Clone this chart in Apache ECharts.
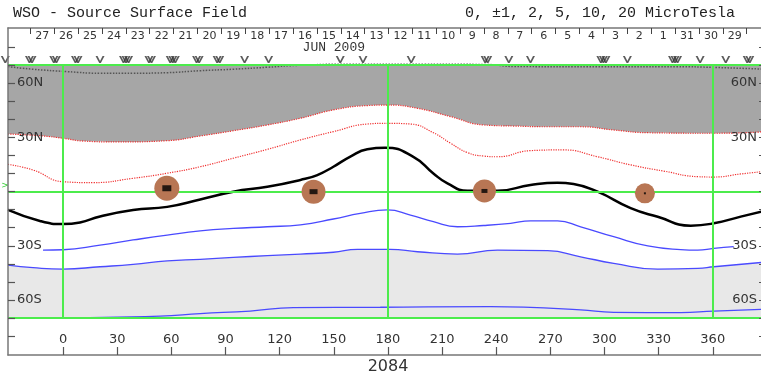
<!DOCTYPE html>
<html>
<head>
<meta charset="utf-8">
<script src="https://cdn.jsdelivr.net/npm/echarts@6/dist/echarts.min.js"></script>
<style>
html, body { margin: 0; padding: 0; background: #fff; }
#chart { width: 761px; height: 375px; }
</style>
</head>
<body>
<div id="chart"></div>
<script>
// Carrington longitude ticks (bottom) and latitude ticks (sides)
var lonTicks = [0, 30, 60, 90, 120, 150, 180, 210, 240, 270, 300, 330, 360];
var latTicks = [-80, -70, -60, -50, -40, -30, -20, -10, 0, 10, 20, 30, 40, 50, 60, 70, 80];
var latLabels = [-60, -30, 30, 60];

// day boundaries along the top (June 2009, time runs right to left)
var dayTicks = [-18.1, -4.9, 8.3, 21.6, 34.8, 48.0, 61.3, 74.5, 87.7, 101.0, 114.2, 127.4, 140.7, 153.9, 167.1,
    180.4, 193.6, 206.8, 220.1, 233.3, 246.5, 259.7, 273.0, 286.2, 299.4, 312.7, 325.9, 339.1, 352.4, 365.6, 378.8];
var dayLabels = ['27', '26', '25', '24', '23', '22', '21', '20', '19', '18', '17', '16', '15', '14', '13',
    '12', '11', '10', '9', '8', '7', '6', '5', '4', '3', '2', '1', '31', '30', '29'];

// grid lines (green)
var gridLons = [0, 180, 360];
var gridLats = [-70, 0, 70];

// neutral line (black)
var neutralLine = [[-30.5, -10.2], [-12.8, -16.3], [0, -18.0], [9.4, -17.1], [20.5, -13.8], [38.8, -10.2],
    [57.7, -8.5], [76.0, -4.4], [94.3, -0.1], [113.2, 2.6], [131.5, 6.4], [140.9, 9.1], [149.8, 13.7],
    [159.2, 19.3], [168.6, 23.4], [178.5, 24.2], [194.1, 19.2], [205.2, 10.0], [213.0, 4.5], [224.1, 0.4],
    [240.7, 0.4], [259.0, 3.6], [274.0, 4.9], [282.9, 4.2], [296.2, -0.1], [314.5, -9.2], [329.5, -14.0],
    [347.8, -18.9], [360.6, -17.6], [375.5, -13.9], [389.5, -10.5]];

// positive contours (red dotted); the first one bounds the dark shading
var northEdge = [[-30.5, 31.8], [-11.1, 30.7], [0, 29.4], [11.1, 27.9], [30.0, 27.4], [57.7, 28.1], [76.0, 30.7],
    [94.3, 33.6], [113.2, 36.8], [131.5, 40.5], [149.8, 45.1], [168.6, 47.5], [179.7, 47.8], [196.4, 46.0],
    [214.7, 41.4], [233.0, 36.8], [249.6, 36.2], [268.5, 35.8], [286.8, 35.8], [305.1, 34.0], [324.0, 32.5],
    [360.6, 32.2], [389.5, 33.1]];
var northLine2 = [[-30.5, 15.0], [-16.6, 11.9], [0, 5.4], [16.6, 4.9], [38.8, 7.3], [57.7, 10.1], [76.0, 13.7],
    [94.3, 18.4], [113.2, 23.3], [131.5, 28.5], [149.8, 33.1], [168.6, 37.3], [179.7, 37.7], [192.5, 37.3],
    [205.2, 32.5], [214.7, 26.7], [224.1, 21.5], [233.0, 19.6], [240.7, 19.2], [259.0, 22.6], [277.3, 23.0],
    [296.2, 19.2], [314.5, 14.7], [332.8, 11.3], [351.7, 8.2], [360.6, 8.0], [375.5, 9.7], [389.5, 11.2]];
var northLine3 = [[-30.5, 69.0], [-16.6, 67.6], [2.2, 66.3], [20.5, 65.4], [38.8, 65.4], [57.7, 65.7], [76.0, 66.8],
    [94.3, 67.6], [113.2, 68.7], [131.5, 69.8], [160, 70.4], [200, 70.4], [235, 70.2], [250, 69.1], [290, 69.0],
    [340, 69.0], [360.6, 68.6], [389.5, 67.6]];

// negative contours (blue); the second one bounds the light shading
var southLine1 = [[-11.1, -32.4], [0, -32.2], [20.5, -29.6], [38.8, -26.8], [57.7, -24.1], [76.0, -21.8],
    [94.3, -20.4], [113.2, -19.5], [131.5, -18.4], [149.8, -15.2], [164.7, -12.1], [179.7, -10.2], [192.5, -13.0],
    [205.2, -16.7], [218.5, -19.5], [233.0, -18.8], [248.0, -17.6], [259.0, -16.2], [274.0, -16.2], [286.8, -19.5],
    [305.1, -25.0], [324.0, -30.1], [342.2, -32.1], [351.7, -32.4], [360.6, -31.4], [371.6, -30.5]];
var southEdge = [[-30.5, -40.7], [-16.6, -42.1], [0, -42.9], [20.5, -41.6], [38.8, -40.3], [57.7, -38.4],
    [76.0, -37.5], [94.3, -36.4], [113.2, -35.5], [131.5, -34.6], [149.8, -33.6], [163.1, -32.0], [181.4, -32.0],
    [196.4, -33.3], [218.5, -34.6], [240.7, -32.4], [268.5, -32.7], [286.8, -36.1], [305.1, -39.7], [329.5, -42.9],
    [351.7, -42.5], [360.6, -41.6], [389.5, -39.0]];
var southLine3 = [[-30.5, -70.1], [7.8, -69.8], [53.8, -68.9], [76.0, -67.5], [103.7, -66.1], [127.6, -64.2],
    [175.8, -64.0], [236.9, -63.6], [255.2, -63.9], [286.8, -65.5], [305.1, -66.8], [342.2, -67.0], [360.6, -66.1],
    [389.5, -65.1]];

// brown spots
var spots = [[57.5, 1.8], [138.8, -0.1], [233.5, 0.3], [322.4, -1.0]];
var spotSizes = [25, 24, 23, 20];
var spotCores = [[9, 6], [8, 5], [6, 4], [2, 2]];

// observation marks along the top
var markLons = [-32, -17.9, -4.4, 7.6, 20.5, 34.9, 48.3, 60.8, 74.7, 86.1, 100.6, 113.9, 153.6, 166.2,
    192.9, 234.6, 247.0, 259.0, 299.4, 312.7, 339.1, 353.0, 367.2, 379.8];
var markCounts = [1, 2, 2, 2, 1, 3, 2, 3, 2, 2, 1, 1, 1, 1, 1, 2, 1, 1, 3, 1, 3, 1, 1, 2];
var markLat = 73;

var dayMids = [];
for (var i = 0; i < dayLabels.length; i++) {
    dayMids.push((dayTicks[i] + dayTicks[i + 1]) / 2);
}

var marks = [];
markLons.forEach(function (lon, i) {
    var n = markCounts[i];
    for (var k = 0; k < n; k++) {
        var off = (k - (n - 1) / 2) * 2.5;
        marks.push({value: [lon, markLat], symbolOffset: [off, 0]});
    }
});

var greenLines = [];
gridLats.forEach(function (lat) {
    greenLines.push({yAxis: lat});
});
gridLons.forEach(function (lon) {
    greenLines.push([{coord: [lon, gridLats[0]]}, {coord: [lon, gridLats[2]]}]);
});

var latName = function (v) {
    return v > 0 ? v + 'N' : (-v) + 'S';
};

var sideAxis = function (pos) {
    return {
        type: 'value', position: pos, min: -90.4, max: 90.4, z: 10,
        axisLine: {show: true, onZero: false, lineStyle: {color: '#777', width: 1.5}},
        axisTick: {show: true, inside: true, length: 7, customValues: latTicks, lineStyle: {color: '#555', width: 1.2}},
        axisLabel: {show: true, inside: true, margin: 9, customValues: latLabels, formatter: latName,
            color: '#333', fontSize: 13, fontFamily: 'DejaVu Sans'},
        splitLine: {show: false}
    };
};

var curve = function (data, color, type, width, z) {
    return {
        type: 'line', data: data, z: z, smooth: 0.5, symbol: 'none', silent: true,
        lineStyle: {color: color, type: type, width: width}
    };
};

var myChart = echarts.init(document.getElementById('chart'));
var option = {
    animation: false,
    backgroundColor: '#fff',
    grid: {left: 8, width: 758, top: 28, bottom: 20, containLabel: false, outerBoundsMode: 'none'},
    xAxis: [
        {
            type: 'value', position: 'bottom', min: -30.5, max: 389.5, z: 10,
            axisLine: {show: true, onZero: false, lineStyle: {color: '#777', width: 1.5}},
            axisTick: {show: true, inside: true, length: 8, customValues: lonTicks, lineStyle: {color: '#555', width: 1.2}},
            axisLabel: {show: true, inside: true, margin: 9, customValues: lonTicks,
                color: '#333', fontSize: 13, fontFamily: 'DejaVu Sans'},
            splitLine: {show: false}
        },
        {
            type: 'value', position: 'top', min: -30.5, max: 389.5, z: 10,
            axisLine: {show: true, onZero: false, lineStyle: {color: '#777', width: 1.5}},
            axisTick: {show: true, inside: true, length: 6, customValues: dayTicks, lineStyle: {color: '#444', width: 1}},
            axisLabel: {
                show: true, inside: true, margin: 3, customValues: dayMids,
                color: '#333', fontSize: 11, fontFamily: 'DejaVu Sans',
                formatter: function (v) {
                    var best = 0;
                    for (var j = 1; j < dayMids.length; j++) {
                        if (Math.abs(dayMids[j] - v) < Math.abs(dayMids[best] - v)) best = j;
                    }
                    return dayLabels[best];
                }
            },
            splitLine: {show: false}
        }
    ],
    yAxis: [sideAxis('left'), sideAxis('right')],
    graphic: [
        {type: 'text', x: 13, y: 13, style: {text: 'WSO - Source Surface Field', font: '15px "Liberation Mono"',
            fill: '#222', verticalAlign: 'middle'}},
        {type: 'text', x: 735, y: 13, style: {text: '0, ±1, 2, 5, 10, 20 MicroTesla', font: '15px "Liberation Mono"',
            fill: '#222', align: 'right', verticalAlign: 'middle'}},
        {type: 'text', x: 365, y: 48, style: {text: 'JUN 2009', font: '13px "Liberation Mono"',
            fill: '#333', align: 'right', verticalAlign: 'middle'}},
        {type: 'text', x: 388, y: 367, style: {text: '2084', font: '16px "DejaVu Sans"',
            fill: '#333', align: 'center', verticalAlign: 'middle'}},
        {type: 'text', x: 5, y: 186, style: {text: '>', font: '9px "DejaVu Sans"',
            fill: '#33cc33', align: 'center', verticalAlign: 'middle'}}
    ],
    series: [
        // shading
        {
            type: 'line', data: northEdge, z: 1, smooth: 0.5, symbol: 'none', silent: true,
            lineStyle: {width: 0, opacity: 0},
            areaStyle: {color: '#a6a6a6', opacity: 1, origin: 70}
        },
        {
            type: 'line', data: southEdge, z: 1, smooth: 0.5, symbol: 'none', silent: true,
            lineStyle: {width: 0, opacity: 0},
            areaStyle: {color: '#e8e8e8', opacity: 1, origin: -70}
        },
        // green frame lines
        {
            type: 'line', data: [], z: 2, silent: true,
            markLine: {silent: true, symbol: 'none', label: {show: false}, animation: false,
                lineStyle: {color: '#4cec4c', width: 2, type: 'solid'}, data: greenLines}
        },
        curve(northLine3, '#555', 'dotted', 1.5, 3),
        curve(northEdge, '#f03030', 'dotted', 1.2, 3),
        curve(northLine2, '#f03030', 'dotted', 1.2, 3),
        curve(southLine1, '#4a4aff', 'solid', 1.3, 3),
        curve(southEdge, '#4a4aff', 'solid', 1.3, 3),
        curve(southLine3, '#4a4aff', 'solid', 1.3, 3),
        curve(neutralLine, '#000', 'solid', 2.5, 4),
        {
            type: 'scatter', z: 5, silent: true, clip: false,
            data: spots.map(function (p, i) {
                return {value: p, symbolSize: spotSizes[i]};
            }),
            itemStyle: {color: '#b87654', opacity: 1}
        },
        {
            type: 'scatter', z: 6, silent: true, symbol: 'rect',
            data: spots.map(function (p, i) {
                return {value: p, symbolSize: spotCores[i]};
            }),
            itemStyle: {color: '#000'}
        },
        {
            type: 'scatter', z: 5, silent: true, clip: false,
            symbol: 'path://M0,0 L2.2,0 L5,7.2 L7.8,0 L10,0 L5.9,10 L4.1,10 Z',
            symbolSize: [9, 7],
            data: marks,
            itemStyle: {color: '#333'}
        }
    ]
};
myChart.setOption(option);
</script>
</body>
</html>
